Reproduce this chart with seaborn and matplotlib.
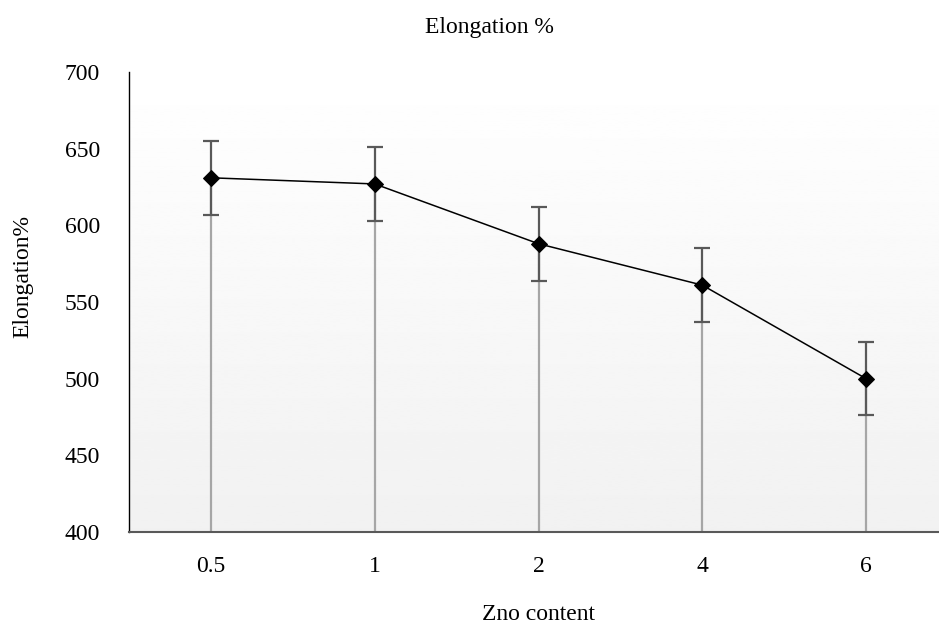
import numpy as np
import pandas as pd
import matplotlib
matplotlib.use('Agg')
import matplotlib.pyplot as plt
import seaborn as sns

zno = ['0.5', '1', '2', '4', '6']
elongation = [631, 627, 588, 561, 500]
err = [24, 24, 24, 24, 24]

df = pd.DataFrame({'zno': zno, 'elongation': elongation})

sns.set_style('white')
plt.rcParams['font.family'] = ['Liberation Serif', 'DejaVu Serif']
plt.rcParams['text.color'] = 'black'
plt.rcParams['xtick.color'] = 'black'
plt.rcParams['ytick.color'] = 'black'

fig = plt.figure(figsize=(9.39, 6.27), dpi=100)
ax = fig.add_axes([129 / 939, 95 / 627, 819 / 939, 460 / 627])

# grey gradient background, white at top
grad = np.linspace(1.0, 0.945, 256).reshape(-1, 1)
ax.imshow(grad, extent=[0, 1, 0, 1], transform=ax.transAxes, aspect='auto',
          cmap='gray', vmin=0, vmax=1, zorder=0)

sns.lineplot(data=df, x='zno', y='elongation', color='black', lw=1.1,
             marker='D', markersize=8, markeredgecolor='black', sort=False,
             ax=ax, zorder=4)
ax.vlines(zno, 400, elongation, color='#a6a6a6', lw=1.6, zorder=2)
ax.errorbar(zno, elongation, yerr=err, fmt='none', ecolor='#595959',
            elinewidth=1.6, capsize=6, capthick=1.6, zorder=3)

ax.set_xlim(-0.5, 4.5)
ax.set_ylim(400, 700)
ax.set_yticks(range(400, 701, 50))
ax.tick_params(axis='y', length=0, pad=21, labelsize=17)
ax.tick_params(axis='x', length=0, pad=17, labelsize=17)

for s in ['top', 'right']:
    ax.spines[s].set_visible(False)
ax.spines['left'].set_color('black')
ax.spines['left'].set_linewidth(1.0)
ax.spines['bottom'].set_color('#595959')
ax.spines['bottom'].set_linewidth(1.5)

ax.set_xlabel('')
ax.set_ylabel('')
fig.text(539 / 939, 1 - 615 / 627, 'Zno content', ha='center', va='center', fontsize=17)
fig.text(23 / 939, 1 - 277 / 627, 'Elongation%', ha='center', va='center',
         rotation=90, fontsize=17)
fig.text(489 / 939, 1 - 28 / 627, 'Elongation %', ha='center', va='center', fontsize=17)

fig.savefig('out.png', dpi=100)
